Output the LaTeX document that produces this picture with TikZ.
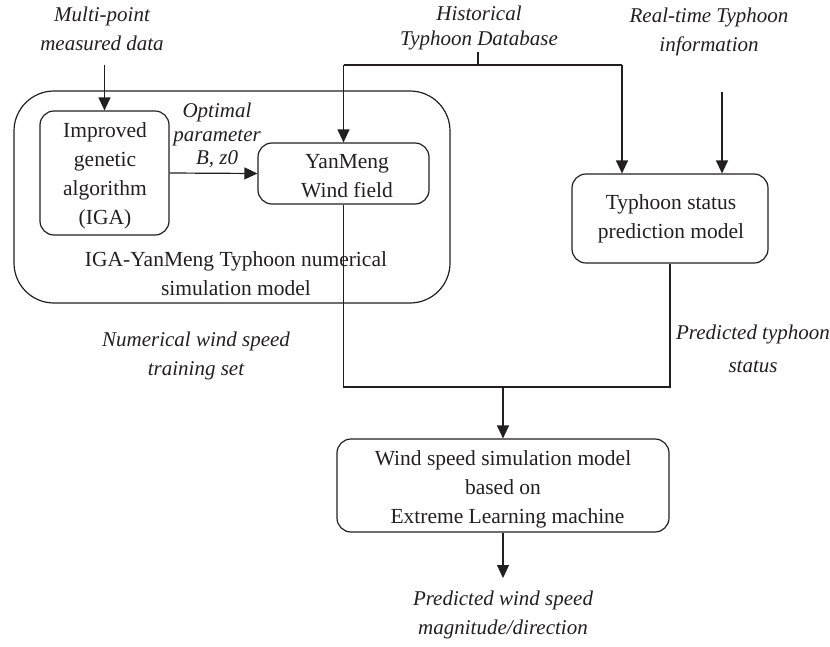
\documentclass[tikz,border=0pt]{standalone}
\usepackage{fontspec}
\setmainfont{Liberation Serif}
\usetikzlibrary{arrows.meta}
\definecolor{ink}{HTML}{231F20}
\begin{document}
\begin{tikzpicture}[x=1pt,y=-1pt,
  every node/.style={text=ink},
  line/.style={draw=ink,line width=1.2pt},
  arr/.style={line,-{Triangle[length=13pt,width=12pt]}},
  modelbox/.style={line,rounded corners=14pt,inner sep=0pt},
  note/.style={align=center,inner sep=0pt,font=\fontsize{21}{29}\selectfont\itshape},
  plain/.style={align=center,inner sep=0pt,font=\fontsize{21.5}{29}\selectfont}]
\useasboundingbox (0,0) rectangle (830,646);

% enclosing IGA-YanMeng model
\node[line,rounded corners=40pt,minimum width=436pt,minimum height=212pt,inner sep=0pt]
  (outer) at (232,197) {};
\node[plain] (simlabel) at (236,273.5) {IGA-YanMeng Typhoon numerical\\simulation model};

% model boxes
\node[modelbox,minimum width=129pt,minimum height=124pt] (iga) at (104.5,173) {};
\node[modelbox,minimum width=171pt,minimum height=61pt] (yan) at (343.5,173.5) {};
\node[modelbox,minimum width=196pt,minimum height=89pt] (status) at (670,218.5) {};
\node[modelbox,minimum width=332pt,minimum height=93pt] (elm) at (503,485.5) {};

% box texts
\node[plain] (igatext) at (105,175.5) {Improved\\genetic\\algorithm\\(IGA)};
\node[plain] (yantext) at (347,176) {YanMeng\\Wind field};
\node[plain] (statustext) at (671,218.5) {Typhoon status\\prediction model};
\node[plain] (elmtext) at (503,489)
  {Wind speed simulation model\\based on\\\hspace*{9pt}Extreme Learning machine};

% input / output labels
\node[note] (multi) at (102,29) {Multi-point\\measured data};
\node[note,font=\fontsize{21}{25.5}\selectfont\itshape] (hist) at (479,28) {Historical\\Typhoon Database};
\node[note] (real) at (709,31.5) {Real-time Typhoon\\information};
\node[note,font=\fontsize{21}{23.5}\selectfont\itshape] (optimal) at (217,135.5) {Optimal\\parameter\\B, z0};
\node[note] (numtrain) at (196,355.5) {Numerical wind speed\\training set};
\node[note,font=\fontsize{21}{33}\selectfont\itshape] (predstatus) at (753,348.5) {Predicted typhoon\\status};
\node[note] (predwind) at (503,615) {Predicted wind speed\\magnitude/direction};

% connector end points
\coordinate (mtop) at (104.5,65);
\coordinate (hstem) at (478,52);
\coordinate (hjoin) at (478,65);
\coordinate (hleft) at (343.5,65);
\coordinate (hright) at (622,65);
\coordinate (rtop) at (722,92);
\coordinate (merge) at (503,387);
\coordinate (pend) at (503,578);

% connectors
\draw[arr] (mtop) -- (iga.north);
\draw[arr] (iga.east) -- (yan.west);
\draw[line] (hstem) -- (hjoin);
\draw[line] (hleft) -- (hright);
\draw[arr] (hleft) -- (yan.north);
\draw[arr] (hright) -- (hright |- status.north);
\draw[arr] (rtop) -- (rtop |- status.north);
\draw[line] (yan.south) |- (merge) -| (status.south);
\draw[arr] (merge) -- (elm.north);
\draw[arr] (elm.south) -- (pend);
\end{tikzpicture}
\end{document}
